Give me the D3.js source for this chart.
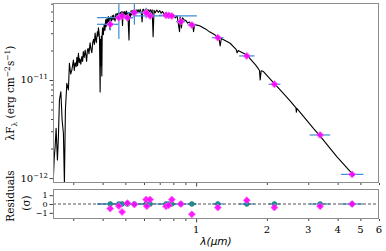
<!DOCTYPE html>
<html>
<head>
<meta charset="utf-8">
<script src="https://cdn.jsdelivr.net/npm/d3@7"></script>
<style>
    body { margin: 0; background: #fff; }
    svg { display: block; }
</style>
</head>
<body>
<div id="chart"></div>
<script>
// model spectrum: wavelength (micron) and lambda*F_lambda (erg cm^-2 s^-1)
const specWave = [0.2463, 0.2490, 0.2512, 0.2536, 0.2569, 0.2594, 0.2620, 0.2657, 0.2690, 0.2724,
    0.2751, 0.2778, 0.2817, 0.2861, 0.2889, 0.2925, 0.2958, 0.3005, 0.3030, 0.3055,
    0.3086, 0.3110, 0.3130, 0.3156, 0.3180, 0.3200, 0.3230, 0.3264, 0.3290, 0.3310,
    0.3340, 0.3371, 0.3400, 0.3420, 0.3445, 0.3470, 0.3500, 0.3538, 0.3570, 0.3600,
    0.3630, 0.3660, 0.3690, 0.3716, 0.3740, 0.3760, 0.3800, 0.3820, 0.3840, 0.3870,
    0.3880, 0.3904, 0.3920, 0.3935, 0.3950, 0.3969, 0.3985, 0.4000, 0.4030, 0.4060,
    0.4090, 0.4120, 0.4140, 0.4170, 0.4200, 0.4230, 0.4260, 0.4280, 0.4300, 0.4330,
    0.4360, 0.4400, 0.4430, 0.4460, 0.4490, 0.4520, 0.4550, 0.4580, 0.4610, 0.4650,
    0.4680, 0.4720, 0.4760, 0.4800, 0.4830, 0.4861, 0.4890, 0.4930, 0.4970, 0.5010,
    0.5050, 0.5090, 0.5120, 0.5165, 0.5180, 0.5210, 0.5250, 0.5290, 0.5330, 0.5370,
    0.5410, 0.5450, 0.5500, 0.5550, 0.5600, 0.5660, 0.5720, 0.5780, 0.5840, 0.5890,
    0.5930, 0.5980, 0.6040, 0.6100, 0.6170, 0.6240, 0.6310, 0.6380, 0.6450, 0.6500,
    0.6560, 0.6620, 0.6700, 0.6800, 0.6900, 0.7000, 0.7100, 0.7200, 0.7300, 0.7450,
    0.7600, 0.7700, 0.7850, 0.8000, 0.8150, 0.8300, 0.8500, 0.8549, 0.8660, 0.8750,
    0.8900, 0.9050, 0.9200, 0.9350, 0.9500, 0.9650, 0.9750, 0.9850, 1.000, 1.040,
    1.100, 1.140, 1.185, 1.250, 1.265, 1.280, 1.395, 1.480, 1.494, 1.510,
    1.643, 1.800, 1.860, 1.873, 1.890, 1.934, 2.100, 2.278, 2.500, 2.660,
    2.670, 2.682, 3.155, 3.371, 3.968, 4.703];
const specFlux = [8.8e-13, 1.6e-12, 2.09e-12, 3.21e-12, 1.53e-12, 2.64e-12, 6.25e-12, 7.6e-12, 3.91e-12, 2.86e-12,
    8.9e-13, 4.94e-12, 9.25e-12, 7.91e-12, 1.48e-11, 1.15e-11, 1.26e-11, 1.6e-11, 1.25e-11, 1.5e-11,
    1.37e-11, 1.7e-11, 1.4e-11, 1.87e-11, 1.5e-11, 1.65e-11, 1.45e-11, 1.73e-11, 1.55e-11, 1.95e-11,
    1.7e-11, 2.02e-11, 1.75e-11, 1.55e-11, 2.0e-11, 2.1e-11, 1.85e-11, 2.39e-11, 2.05e-11, 1.9e-11,
    2.4e-11, 2.6e-11, 2.3e-11, 3.02e-11, 2.6e-11, 2.4e-11, 3.1e-11, 2.8e-11, 3.4e-11, 2.9e-11,
    2.6e-11, 7.55e-12, 2.6e-11, 1.4e-11, 2.8e-11, 1.1e-11, 3.0e-11, 3.4e-11, 2.9e-11, 3.7e-11,
    3.2e-11, 4.1e-11, 3.5e-11, 4.2e-11, 3.7e-11, 4.43e-11, 3.9e-11, 4.3e-11, 3.3e-11, 4.4e-11,
    4.0e-11, 4.55e-11, 4.1e-11, 4.6e-11, 4.2e-11, 4.0e-11, 4.7e-11, 4.3e-11, 4.8e-11, 4.4e-11,
    4.85e-11, 4.45e-11, 4.9e-11, 4.5e-11, 4.98e-11, 3.6e-11, 4.95e-11, 4.6e-11, 5.0e-11, 4.6e-11,
    5.05e-11, 4.4e-11, 4.9e-11, 3.0e-11, 2.56e-11, 4.8e-11, 4.3e-11, 5.1e-11, 4.6e-11, 5.12e-11,
    4.7e-11, 5.18e-11, 4.8e-11, 5.2e-11, 4.85e-11, 5.22e-11, 4.9e-11, 5.25e-11, 4.9e-11, 3.9e-11,
    5.2e-11, 5.26e-11, 4.9e-11, 5.25e-11, 4.95e-11, 5.24e-11, 4.9e-11, 5.22e-11, 4.9e-11, 5.2e-11,
    2.77e-11, 5.15e-11, 4.85e-11, 5.18e-11, 4.9e-11, 5.1e-11, 4.8e-11, 5.0e-11, 4.7e-11, 4.9e-11,
    4.4e-11, 4.8e-11, 4.5e-11, 4.65e-11, 4.3e-11, 4.5e-11, 3.11e-11, 4.4e-11, 3.4e-11, 4.3e-11,
    4.1e-11, 4.05e-11, 3.8e-11, 3.9e-11, 3.7e-11, 3.78e-11, 3.11e-11, 3.7e-11, 3.65e-11, 3.56e-11,
    3.3e-11, 3.1e-11, 2.95e-11, 2.72e-11, 2.22e-11, 2.65e-11, 2.37e-11, 2.05e-11, 1.89e-11, 2.0e-11,
    1.8e-11, 1.4e-11, 1.25e-11, 1.0e-11, 1.24e-11, 1.22e-11, 9.8e-12, 7.91e-12, 6.19e-12, 5.2e-12,
    4.7e-12, 5.14e-12, 3.21e-12, 2.68e-12, 1.65e-12, 1.05e-12];

// photometry
const photWave = [0.431, 0.469, 0.484, 0.510, 0.546, 0.613, 0.617, 0.637, 0.745, 0.764,
    0.788, 0.861, 0.959, 1.237, 1.643, 2.153, 3.37, 4.61];
const photFlux = [3.70e-11, 4.32e-11, 4.50e-11, 4.32e-11, 4.86e-11, 4.86e-11, 4.80e-11, 4.50e-11, 4.57e-11, 4.55e-11,
    4.50e-11, 3.94e-11, 3.64e-11, 2.70e-11, 1.76e-11, 9.04e-12, 2.75e-12, 1.09e-12];
const photFluxErr = [0.5e-11, 1.7e-11, 0.1e-11, 0.1e-11, 1.2e-11, 0.6e-11, 0.1e-11, 0.1e-11, 0.1e-11, 0.1e-11,
    0.1e-11, 0.1e-11, 0.1e-11, 0.05e-11, 0.03e-11, 0.02e-11, 0.01e-11, 0.005e-11];
const photWaveErrLo = [0.052, 0.09, 0.03, 0.03, 0.04, 0.03, 0.03, 0.10, 0.05, 0.04,
    0.03, 0.04, 0.04, 0.07, 0.12, 0.12, 0.33, 0.48];
const photWaveErrHi = [0.035, 0.07, 0.03, 0.03, 0.04, 0.03, 0.03, 0.37, 0.05, 0.04,
    0.03, 0.04, 0.04, 0.07, 0.13, 0.13, 0.35, 0.54];
const residuals = [-0.52, -0.23, -0.9, 0.1, -0.05, 0.5, -0.25, 0.5, -0.26, -0.15,
    0.5, 0.0, -1.17, -0.4, 0.42, -0.4, -0.26, 0.0];

const xTickLabels = [1, 2, 3, 4, 5, 6];
const xMinorTicks = [0.3, 0.4, 0.5, 0.6, 0.7, 0.8, 0.9, 2, 3, 4, 5, 6];
const yMajorTicks = [1e-12, 1e-11];
const yMinorTicks = [2e-12, 3e-12, 4e-12, 5e-12, 6e-12, 7e-12, 8e-12, 9e-12, 2e-11, 3e-11, 4e-11, 5e-11, 6e-11];
const resTicks = [-1, 0, 1];

const width = 386, height = 251;
const panel = { left: 53, right: 379, top: 3, bottom: 183 };
const res = { top: 189, bottom: 219 };

const serif = '"DejaVu Serif", serif';
const frameColor = '#8c8c8c';
const errColor = '#3a8dd0';

const svg = d3.select('#chart').append('svg')
    .attr('width', width)
    .attr('height', height);

const x = d3.scaleLog().domain([0.246, 6]).range([panel.left, panel.right]);
const y = d3.scaleLog().domain([8.9e-13, 6.1e-11]).range([panel.bottom, panel.top]);
const yr = d3.scaleLinear().domain([-1.7, 1.7]).range([res.bottom, res.top]);

svg.append('clipPath').attr('id', 'clipTop')
    .append('rect')
    .attr('x', panel.left).attr('y', panel.top)
    .attr('width', panel.right - panel.left).attr('height', panel.bottom - panel.top);

const spec = specWave.map((w, i) => ({ w, f: specFlux[i] }));
const phot = photWave.map((w, i) => ({
    w, f: photFlux[i], fe: photFluxErr[i],
    lo: w - photWaveErrLo[i], hi: w + photWaveErrHi[i], r: residuals[i]
}));

// ---- top panel ----
const gTop = svg.append('g').attr('clip-path', 'url(#clipTop)');

gTop.append('path')
    .datum(spec)
    .attr('fill', 'none')
    .attr('stroke', '#000')
    .attr('stroke-width', 1.1)
    .attr('stroke-linejoin', 'round')
    .attr('d', d3.line().x(d => x(d.w)).y(d => y(d.f)));

gTop.selectAll('line.xerr')
    .data(phot)
    .enter().append('line')
    .attr('class', 'xerr')
    .attr('x1', d => x(d.lo)).attr('x2', d => x(d.hi))
    .attr('y1', d => y(d.f)).attr('y2', d => y(d.f))
    .attr('stroke', errColor).attr('stroke-width', 1.2);

gTop.selectAll('line.yerr')
    .data(phot)
    .enter().append('line')
    .attr('class', 'yerr')
    .attr('x1', d => x(d.w)).attr('x2', d => x(d.w))
    .attr('y1', d => y(d.f - d.fe)).attr('y2', d => y(d.f + d.fe))
    .attr('stroke', errColor).attr('stroke-width', 1.2);

const diamond = d3.symbol().type(d3.symbolSquare).size(24);

gTop.selectAll('path.pt')
    .data(phot)
    .enter().append('path')
    .attr('class', 'pt')
    .attr('d', diamond)
    .attr('transform', d => `translate(${x(d.w)},${y(d.f)}) rotate(45)`)
    .attr('fill', '#ff00ff')
    .attr('fill-opacity', 0.9)
    .attr('stroke', '#ff55ff')
    .attr('stroke-width', 0.8);

// ---- residual panel ----
svg.selectAll('line.rxerr')
    .data(phot)
    .enter().append('line')
    .attr('class', 'rxerr')
    .attr('x1', d => x(d.lo)).attr('x2', d => x(d.hi))
    .attr('y1', yr(0)).attr('y2', yr(0))
    .attr('stroke', errColor).attr('stroke-width', 1.2);

svg.append('line')
    .attr('x1', panel.left).attr('x2', panel.right)
    .attr('y1', yr(0)).attr('y2', yr(0))
    .attr('stroke', '#555')
    .attr('stroke-width', 1)
    .attr('stroke-dasharray', '3,2');

svg.selectAll('circle.rc')
    .data(phot)
    .enter().append('circle')
    .attr('class', 'rc')
    .attr('cx', d => x(d.w)).attr('cy', yr(0))
    .attr('r', 2.4)
    .attr('fill', '#1f8f8f')
    .attr('stroke', '#166e6e')
    .attr('stroke-width', 0.6);

svg.selectAll('path.rpt')
    .data(phot)
    .enter().append('path')
    .attr('class', 'rpt')
    .attr('d', diamond)
    .attr('transform', d => `translate(${x(d.w)},${yr(d.r)}) rotate(45)`)
    .attr('fill', '#ff00ff')
    .attr('fill-opacity', 0.9)
    .attr('stroke', '#ff55ff')
    .attr('stroke-width', 0.8);

// ---- frames ----
[[panel.top, panel.bottom], [res.top, res.bottom]].forEach(([t, b]) => {
    svg.append('rect')
        .attr('x', panel.left + 0.5).attr('y', t + 0.5)
        .attr('width', panel.right - panel.left - 1).attr('height', b - t - 1)
        .attr('fill', 'none')
        .attr('stroke', frameColor)
        .attr('stroke-width', 1);
});

// ---- axes ----
function styleAxis(g, size) {
    g.select('.domain').remove();
    g.selectAll('.tick line').attr('stroke', '#444');
    g.selectAll('.tick text')
        .style('font-family', serif)
        .style('font-size', (size || 10) + 'px')
        .attr('fill', '#000');
}

[panel.bottom, res.bottom].forEach(yPos => {
    svg.append('g')
        .attr('transform', `translate(0,${yPos})`)
        .call(d3.axisBottom(x).tickValues([1]).tickSize(3.5).tickFormat(''))
        .call(styleAxis);
    svg.append('g')
        .attr('transform', `translate(0,${yPos})`)
        .call(d3.axisBottom(x).tickValues(xMinorTicks).tickSize(2).tickFormat(''))
        .call(styleAxis);
});

svg.selectAll('text.xlab')
    .data(xTickLabels)
    .enter().append('text')
    .attr('class', 'xlab')
    .attr('x', d => x(d))
    .attr('y', res.bottom + 14)
    .attr('text-anchor', 'middle')
    .style('font-family', serif)
    .style('font-size', '10px')
    .text(d => d);

svg.append('g')
    .attr('transform', `translate(${panel.left},0)`)
    .call(d3.axisLeft(y).tickValues(yMajorTicks).tickSize(3.5).tickFormat(''))
    .call(styleAxis);
svg.append('g')
    .attr('transform', `translate(${panel.left},0)`)
    .call(d3.axisLeft(y).tickValues(yMinorTicks).tickSize(2).tickFormat(''))
    .call(styleAxis);

const yLab = svg.selectAll('text.ylab')
    .data(yMajorTicks)
    .enter().append('text')
    .attr('class', 'ylab')
    .attr('x', panel.left - 5)
    .attr('y', d => y(d) + 3.5)
    .attr('text-anchor', 'end')
    .style('font-family', serif)
    .style('font-size', '10px');
yLab.append('tspan').text('10');
yLab.append('tspan')
    .attr('dy', -4)
    .style('font-size', '7px')
    .text(d => '\u2212' + Math.round(-Math.log10(d)));

svg.append('g')
    .attr('transform', `translate(${panel.left},0)`)
    .call(d3.axisLeft(yr).tickValues(resTicks).tickSize(3.5).tickPadding(2)
        .tickFormat(d => d < 0 ? '\u2212' + (-d) : d))
    .call(g => styleAxis(g, 8));

// ---- axis titles ----
const yTitle = svg.append('text')
    .attr('transform', `translate(14,${(panel.top + panel.bottom) / 2}) rotate(-90)`)
    .attr('text-anchor', 'middle')
    .style('font-family', serif)
    .style('font-size', '10.5px');
yTitle.append('tspan').text('\u03bbF');
yTitle.append('tspan').attr('dy', 2.5).style('font-size', '7.5px').text('\u03bb');
yTitle.append('tspan').attr('dy', -2.5).text(' (erg cm');
yTitle.append('tspan').attr('dy', -4).style('font-size', '7.5px').text('\u22122');
yTitle.append('tspan').attr('dy', 4).text('s');
yTitle.append('tspan').attr('dy', -4).style('font-size', '7.5px').text('\u22121');
yTitle.append('tspan').attr('dy', 4).text(')');

svg.append('text')
    .attr('transform', `translate(14,196) rotate(-90)`)
    .attr('text-anchor', 'middle')
    .style('font-family', serif)
    .style('font-size', '10.5px')
    .text('Residuals');
svg.append('text')
    .attr('transform', `translate(30,203) rotate(-90)`)
    .attr('text-anchor', 'middle')
    .style('font-family', serif)
    .style('font-size', '10.5px')
    .text('(\u03c3)');

svg.append('text')
    .attr('x', 216)
    .attr('y', 245)
    .attr('text-anchor', 'middle')
    .style('font-family', '"DejaVu Sans", sans-serif')
    .style('font-style', 'italic')
    .style('font-size', '10.5px')
    .text('\u03bb(\u03bcm)');
</script>
</body>
</html>
